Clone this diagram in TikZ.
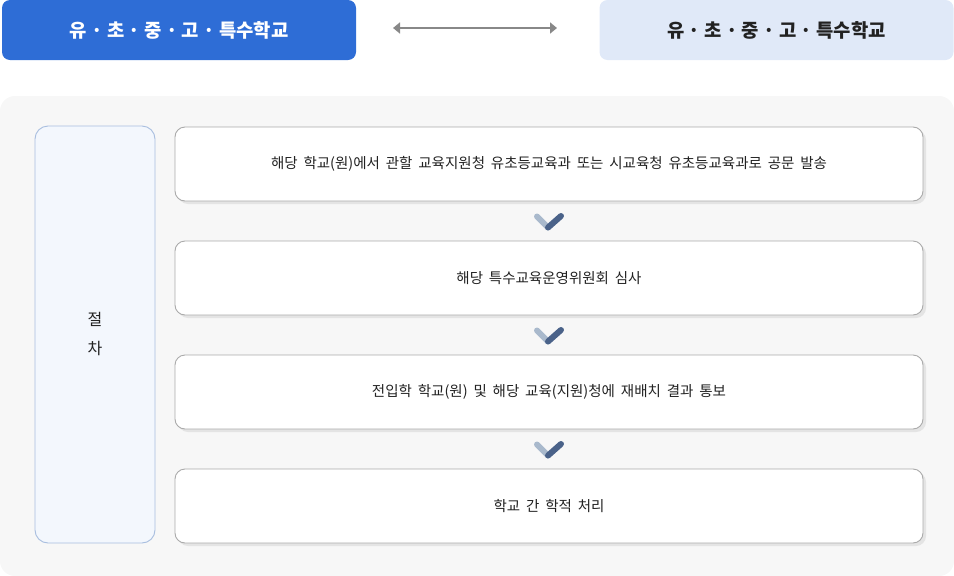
\documentclass[tikz,border=0pt]{standalone}
\usepackage{fontspec}
\setmainfont[WordSpace=1.8]{Noto Sans CJK KR}
\newfontfamily\hdfont{Noto Sans CJK KR}
\usetikzlibrary{arrows.meta,shadows}
\definecolor{hdblue}{HTML}{2E6DD6}
\definecolor{hdlight}{HTML}{E0E9F8}
\definecolor{panelbg}{HTML}{F7F7F7}
\definecolor{sidefill}{HTML}{F3F7FD}
\definecolor{sideline}{HTML}{A8BEDF}
\definecolor{boxline}{HTML}{AAAAAA}
\definecolor{shadowc}{HTML}{E4E4E4}
\definecolor{chklight}{HTML}{A9B9CC}
\definecolor{chkdark}{HTML}{4A6289}
\definecolor{arrgray}{HTML}{888888}
\definecolor{txt}{HTML}{222222}
\tikzset{
  hdbox/.style={rounded corners=8pt, minimum width=354pt, minimum height=60pt, inner sep=0pt, font=\hdfont\fontsize{18.8}{22}\selectfont\bfseries},
  stepbox/.style={draw=boxline, line width=0.9pt, fill=white, rounded corners=10pt, minimum width=748pt, minimum height=74pt, inner sep=0pt, text=txt, font=\fontsize{14.5}{17}\selectfont,
    drop shadow={shadow xshift=3pt, shadow yshift=-3pt, fill=shadowc, opacity=1}},
  chk/.style={line width=6pt, line cap=round}
}
\begin{document}
\begin{tikzpicture}[x=1pt,y=-1pt]
\useasboundingbox (0,0) rectangle (954,576);
% headers
\node[hdbox, fill=hdblue, text=white] (h1) at (179,30) {유 · 초 · 중 · 고 · 특수학교};
\node[hdbox, fill=hdlight, text=txt] (h2) at (776.5,30) {유 · 초 · 중 · 고 · 특수학교};
\coordinate (aL) at (393,28);
\coordinate (aR) at (557,28);
\draw[arrgray, line width=2.4pt, {Triangle[length=7pt,width=11pt]}-{Triangle[length=7pt,width=11pt]}] (aL) -- (aR);
% panel
\fill[panelbg, rounded corners=15pt] (0,96) rectangle (954,576);
% side box
\node[draw=sideline, line width=0.9pt, fill=sidefill, rounded corners=13pt, minimum width=120pt, minimum height=417pt, inner sep=0pt, align=center, text=txt, font=\fontsize{16}{29}\selectfont] (side) at (95,334.5) {절\\차};
% steps
\node[stepbox] (s1) at (549,164) {해당 학교(원)에서 관할 교육지원청 유초등교육과 또는 시교육청 유초등교육과로 공문 발송};
\node[stepbox] (s2) at (549,278) {해당 특수교육운영위원회 심사};
\node[stepbox] (s3) at (549,392) {전입학 학교(원) 및 해당 교육(지원)청에 재배치 결과 통보};
\node[stepbox] (s4) at (549,506) {학교 간 학적 처리};
% checks
\foreach \y [count=\i] in {222,336,450}{
  \coordinate (c\i a) at (537,\y-5.5);
  \coordinate (c\i b) at (548,\y+5.5);
  \coordinate (c\i c) at (561,\y-6);
  \draw[chk, chklight] (c\i a) -- (c\i b);
  \draw[chk, chkdark] (c\i b) -- (c\i c);
}
\end{tikzpicture}
\end{document}
